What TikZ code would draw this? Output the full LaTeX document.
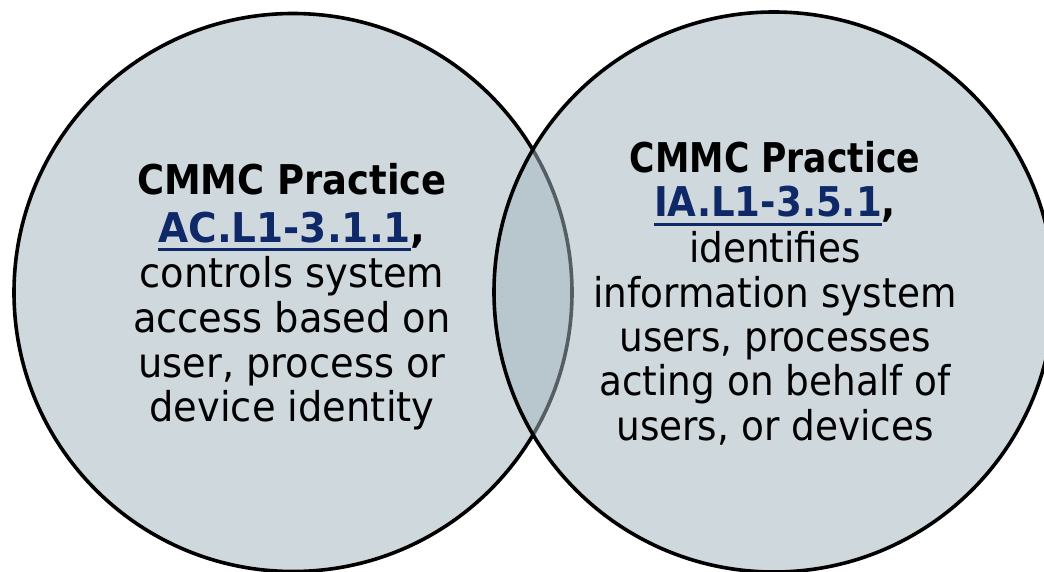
\documentclass[tikz,border=0pt]{standalone}
\usepackage{fontspec}
\setmainfont{DejaVu Sans}
\newfontfamily\regL[FakeStretch=0.937]{DejaVu Sans}
\newfontfamily\regR[FakeStretch=0.912]{DejaVu Sans}
\newfontfamily\bldL[FakeStretch=0.900]{DejaVu Sans}
\newfontfamily\bldR[FakeStretch=0.843]{DejaVu Sans}
\newfontfamily\lnkL[FakeStretch=0.951]{DejaVu Sans}
\newfontfamily\lnkR[FakeStretch=0.905]{DejaVu Sans}
\definecolor{linkblue}{RGB}{14,40,104}
\definecolor{venn}{RGB}{163,182,190}
\newcommand\ulink[1]{\textcolor{linkblue}{\setbox0\hbox{#1}\rlap{\rule[-9pt]{\wd0}{3pt}}\box0}}
\begin{document}
\begin{tikzpicture}[x=1pt,y=-1pt,
  ring/.style={line width=3.6pt, draw=black, fill=venn, fill opacity=0.52},
  txt/.style={anchor=base, inner sep=0pt, font=\fontsize{41}{45}\selectfont}]
\useasboundingbox (0,0) rectangle (1044,572);
\draw[ring] (293,292.5) circle[radius=279pt];
\draw[ring] (774,292) circle[radius=280pt];
% left text
\node[txt] (l1) at (292,195) {\bldL\bfseries CMMC Practice};
\node[txt] (l2) at (292,242) {\lnkL\bfseries\ulink{AC.L1-3.1.1},};
\node[txt] (l3) at (292,287) {\regL controls system};
\node[txt] (l4) at (292,332) {\regL access based on};
\node[txt] (l5) at (292,377) {\regL user, process or};
\node[txt] (l6) at (292,421) {\regL device identity};
% right text
\node[txt] (r1) at (775,173) {\bldR\bfseries CMMC Practice};
\node[txt] (r2) at (775,217) {\lnkR\bfseries\ulink{IA.L1-3.5.1},};
\node[txt] (r3) at (775,262) {\regR identifies};
\node[txt] (r4) at (775,307) {\regR information system};
\node[txt] (r5) at (775,351) {\regR users, processes};
\node[txt] (r6) at (775,395) {\regR acting on behalf of};
\node[txt] (r7) at (775,440) {\regR users, or devices};
\end{tikzpicture}
\end{document}
